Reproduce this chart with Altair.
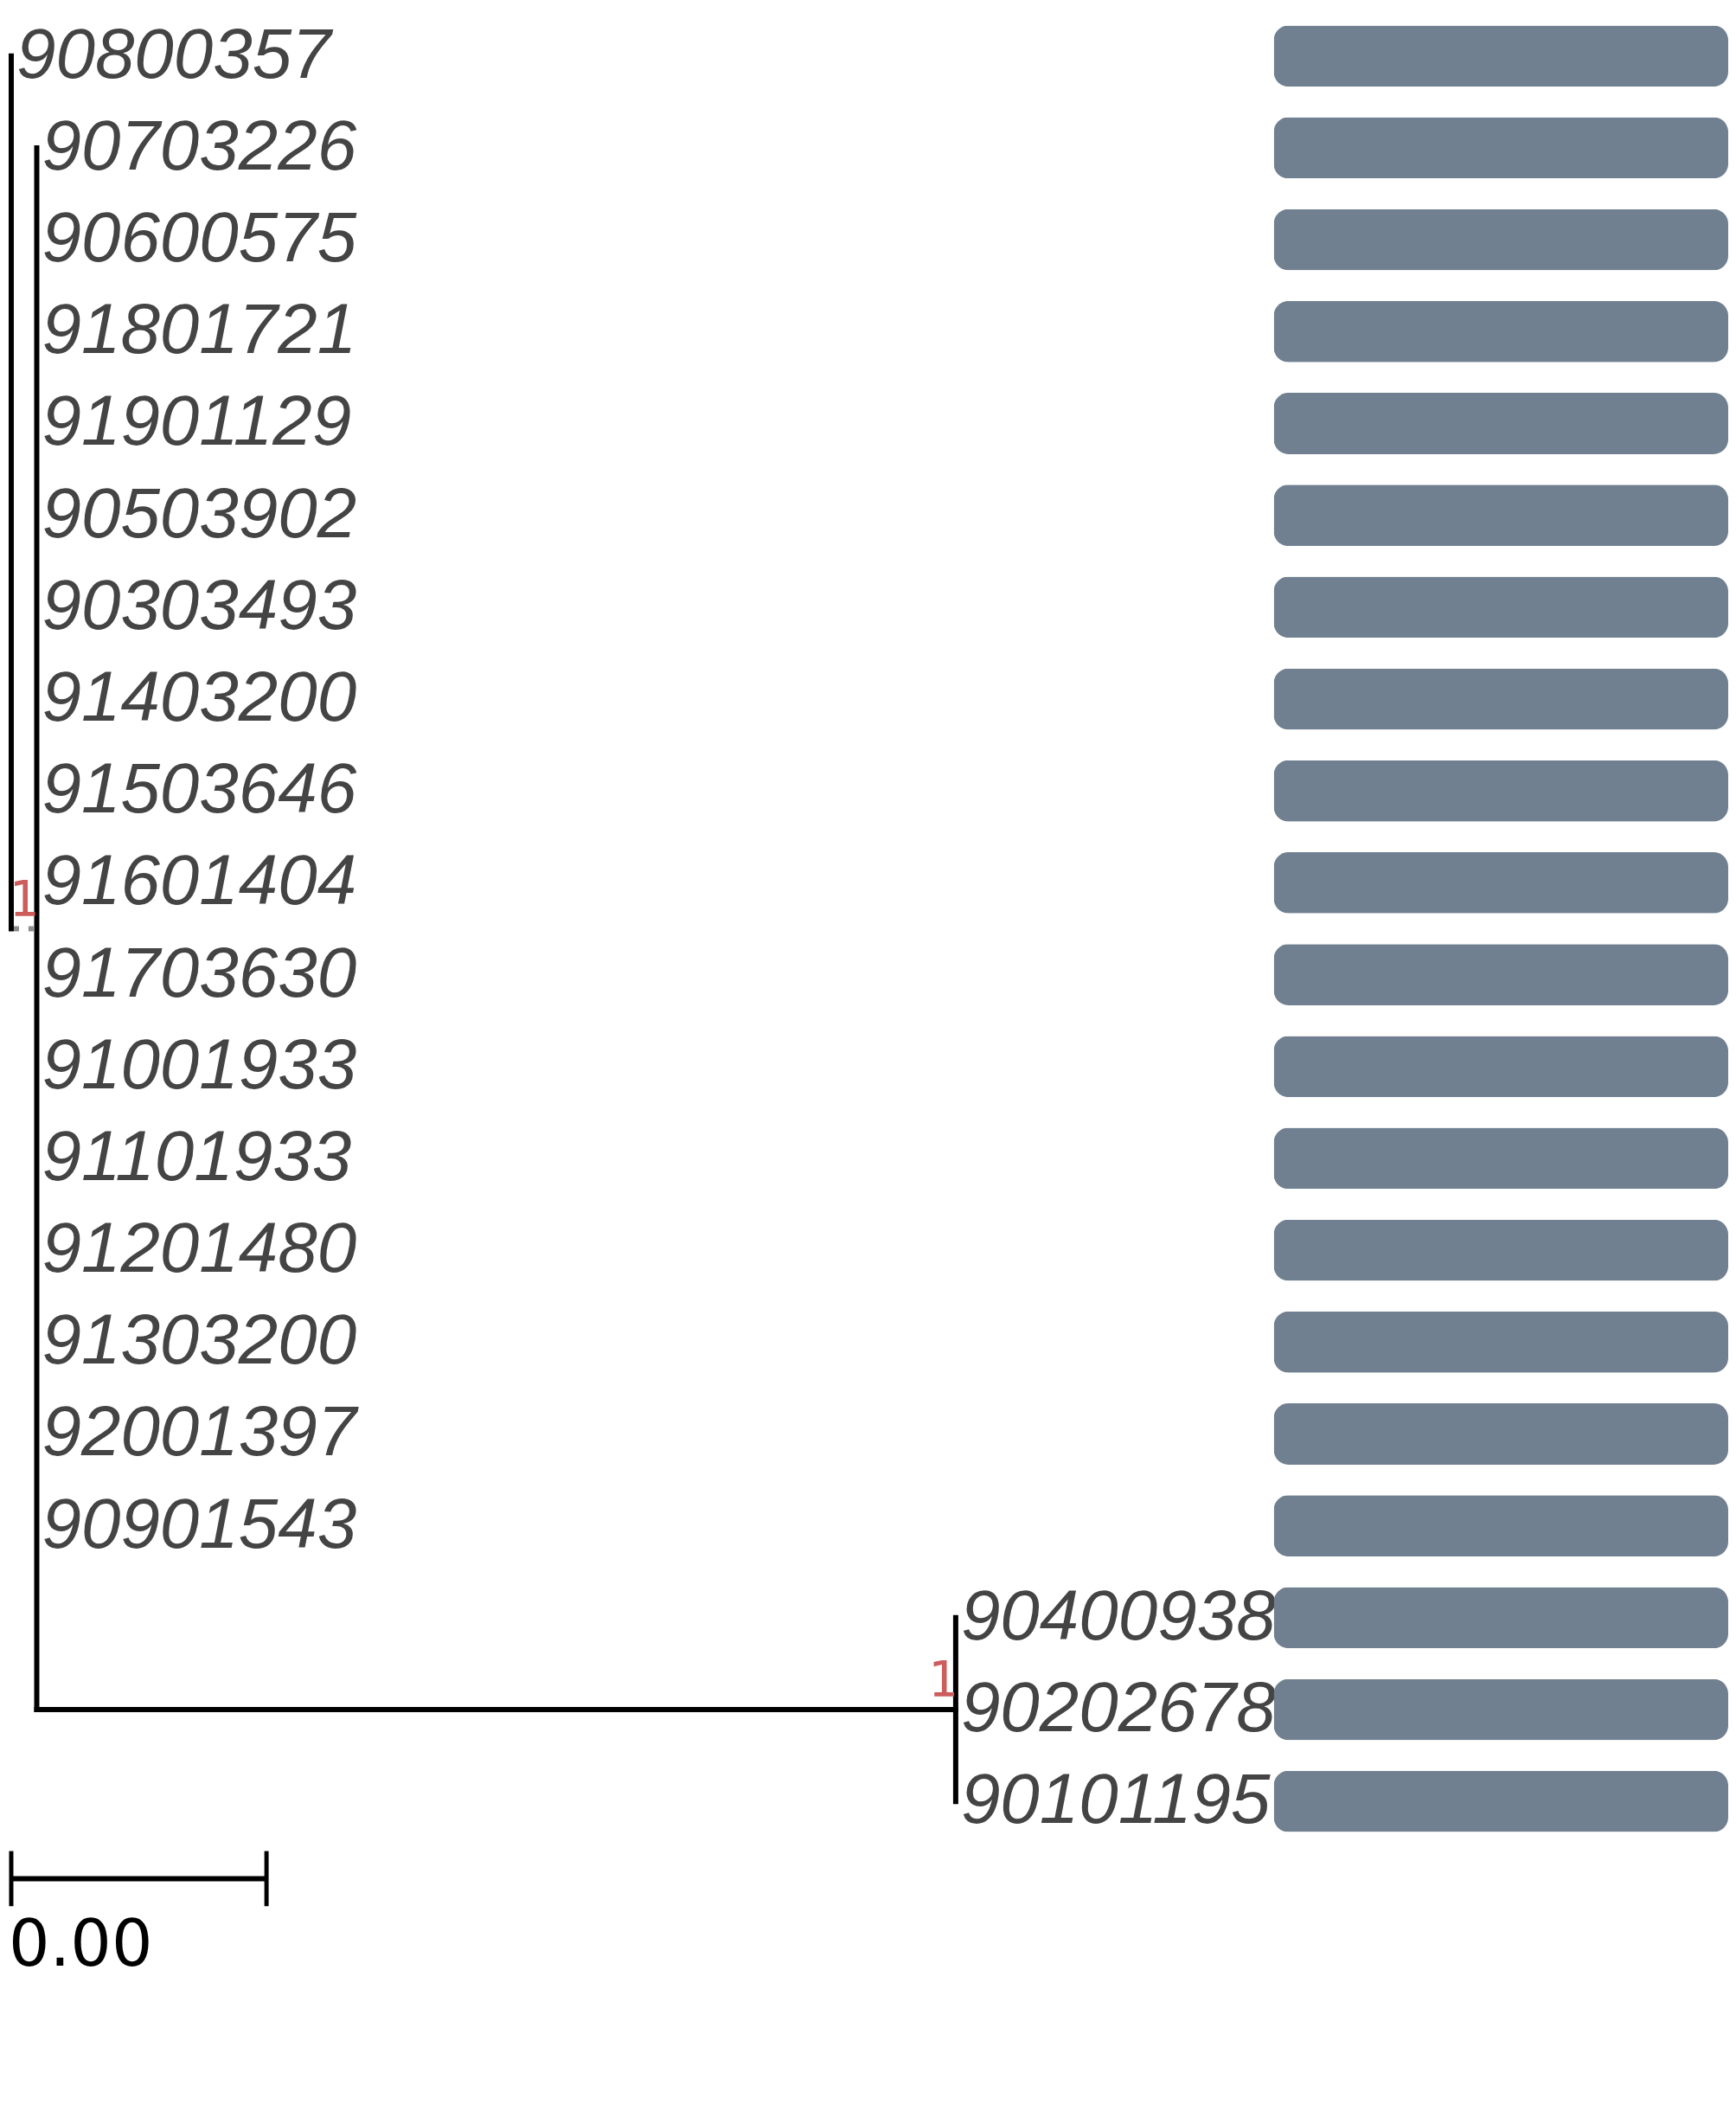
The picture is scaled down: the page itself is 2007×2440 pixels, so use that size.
import altair as alt
import pandas as pd

# tips, top to bottom
TIP_LABELS = [
    "90800357", "90703226", "90600575", "91801721", "91901129",
    "90503902", "90303493", "91403200", "91503646", "91601404",
    "91703630", "91001933", "91101933", "91201480", "91303200",
    "92001397", "90901543", "90400938", "90202678", "90101195",
]

# tree: node, parent, branch length (root -> A -> B)
INTERNAL_NODES = ["root", "A", "B"]
INTERNAL_PARENTS = [None, "root", "A"]
INTERNAL_LENGTHS = [0.0, 0.0001, 0.0036]
TIP_PARENTS = ["root"] + ["A"] * 16 + ["B"] * 3
TIP_LENGTHS = [0.0, 0.0, 0.0, 0.0, 0.0, 0.0, 0.0, 0.0, 0.0, 0.0,
               0.0, 0.0, 0.0, 0.0, 0.0, 0.0, 0.0, 0.0, 0.0, 0.0]
DOTTED_EDGES = ["A"]  # edge leading into A is drawn dotted grey

# node support
SUPPORT_NODES = ["A", "B"]
SUPPORT_VALUES = [1, 1]

# bar panel values (one per tip)
BAR_VALUES = [1, 1, 1, 1, 1, 1, 1, 1, 1, 1,
              1, 1, 1, 1, 1, 1, 1, 1, 1, 1]

SCALE_BAR = 0.001

# ---- layout ----
ROW_STEP = 106.5
FIRST_ROW_PX = 52.5
TREE_W, TREE_H = 1467, 2300
BAR_W = 527
PX_PER_UNIT = 296000
ROOT_PX = 3

parent = dict(zip(INTERNAL_NODES + TIP_LABELS, INTERNAL_PARENTS + TIP_PARENTS))
blen = dict(zip(INTERNAL_NODES + TIP_LABELS, INTERNAL_LENGTHS + TIP_LENGTHS))
children = {}
for n, p in parent.items():
    if p is not None:
        children.setdefault(p, []).append(n)

xpos = {}
def get_x(n):
    if n not in xpos:
        p = parent[n]
        xpos[n] = (get_x(p) if p else 0.0) + blen[n]
    return xpos[n]

ypos = {t: i for i, t in enumerate(TIP_LABELS)}
def get_y(n):
    if n not in ypos:
        ys = [get_y(c) for c in children[n]]
        ypos[n] = (min(ys) + max(ys)) / 2
    return ypos[n]

for n in parent:
    get_x(n); get_y(n)

solid, dotted = [], []
for n, p in parent.items():
    if p is None:
        continue
    if xpos[n] > xpos[p]:
        seg = {"x": xpos[p], "x2": xpos[n], "y": ypos[n], "y2": ypos[n]}
        (dotted if n in DOTTED_EDGES else solid).append(seg)
for n, ch in children.items():
    ys = [ypos[c] for c in ch]
    solid.append({"x": xpos[n], "x2": xpos[n], "y": min(ys), "y2": max(ys)})

tips = pd.DataFrame({"label": TIP_LABELS,
                     "x": [xpos[t] for t in TIP_LABELS],
                     "y": [ypos[t] for t in TIP_LABELS]})
support = pd.DataFrame({"label": [str(v) for v in SUPPORT_VALUES],
                        "x": [xpos[n] for n in SUPPORT_NODES],
                        "y": [ypos[n] for n in SUPPORT_NODES]})

last = len(TIP_LABELS) - 1
sb_y = last + 0.84
sb_line = pd.DataFrame({"x": [0.0], "x2": [SCALE_BAR], "y": [sb_y], "y2": [sb_y]})
sb_ticks = pd.DataFrame({"x": [0.0, SCALE_BAR], "x2": [0.0, SCALE_BAR],
                         "y": [sb_y - 0.30] * 2, "y2": [sb_y + 0.30] * 2})
sb_text = pd.DataFrame({"x": [0.0], "y": [last + 1.79], "v": [SCALE_BAR]})

xs = alt.Scale(domain=[-ROOT_PX / PX_PER_UNIT, (TREE_W - ROOT_PX) / PX_PER_UNIT],
               nice=False, zero=False)
ys = alt.Scale(domain=[-FIRST_ROW_PX / ROW_STEP, (TREE_H - FIRST_ROW_PX) / ROW_STEP],
               nice=False, zero=False, reverse=True)
X = lambda f: alt.X(f, scale=xs, axis=None)
Y = lambda f: alt.Y(f, scale=ys, axis=None)

def segs(df, **mk):
    return alt.Chart(df).mark_rule(**mk).encode(
        x=X("x:Q"), x2="x2:Q", y=Y("y:Q"), y2="y2:Q")

edges = segs(pd.DataFrame(solid), color="black", strokeWidth=6, strokeCap="square")
dots = segs(pd.DataFrame(dotted), color="#8c8c8c", strokeWidth=6,
            strokeDash=[6, 11], strokeDashOffset=-3)

tip_text = alt.Chart(tips).mark_text(
    align="left", baseline="middle", dx=6, font="Liberation Sans",
    fontStyle="italic", fontSize=82, color="#444444",
).encode(x=X("x:Q"), y=Y("y:Q"), text="label:N")

node_text = alt.Chart(support).mark_text(
    align="right", baseline="alphabetic", dx=2, dy=-15,
    font="DejaVu Sans Mono", fontSize=57, color="#CD5C5C",
).encode(x=X("x:Q"), y=Y("y:Q"), text="label:N")

sb = segs(sb_line, color="black", strokeWidth=6)
sbt = segs(sb_ticks, color="black", strokeWidth=5)
sb_lab = alt.Chart(sb_text).mark_text(
    align="left", baseline="alphabetic", dx=-3, font="DejaVu Sans",
    fontSize=75, color="black",
).encode(x=X("x:Q"), y=Y("y:Q"), text=alt.Text("v:Q", format=".2f"))

tree = alt.layer(edges, dots, tip_text, node_text, sb, sbt, sb_lab).properties(
    width=TREE_W, height=TREE_H)

pi = 1 - 71 / ROW_STEP
po = FIRST_ROW_PX / ROW_STEP - (1 - pi) / 2
bars = alt.Chart(pd.DataFrame({"label": TIP_LABELS, "value": BAR_VALUES})).mark_bar(
    color="#708090", cornerRadius=17
).encode(
    x=alt.X("value:Q", scale=alt.Scale(domain=[0, 1], nice=False), axis=None),
    y=alt.Y("label:N", sort=TIP_LABELS, axis=None,
            scale=alt.Scale(paddingInner=pi, paddingOuter=po)),
).properties(width=BAR_W, height=alt.Step(ROW_STEP))

chart = alt.hconcat(tree, bars, spacing=0, bounds="flush").properties(
    padding=0).configure_view(stroke="transparent")

chart.save("out.html", embed_options={"renderer": "svg", "actions": False})
